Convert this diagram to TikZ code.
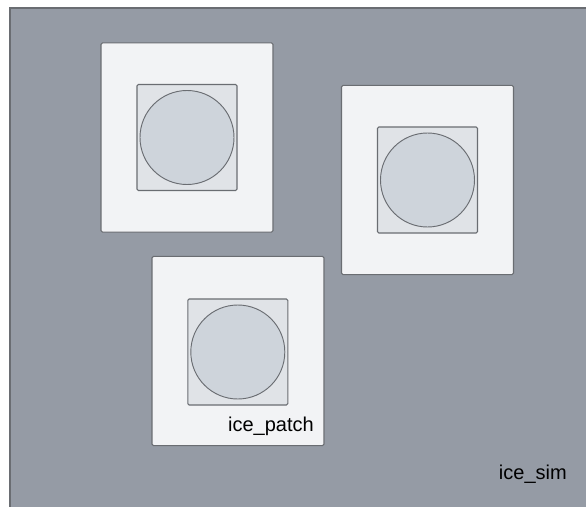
\documentclass[tikz,border=0pt]{standalone}
\usepackage{fontspec}
\setmainfont{Liberation Sans}
\usetikzlibrary{positioning}

\definecolor{simgray}{HTML}{959BA5}
\definecolor{cellfill}{HTML}{F2F3F5}
\definecolor{holefill}{HTML}{E0E3E7}
\definecolor{discfill}{HTML}{CED4DB}
\definecolor{edgegray}{HTML}{6A6D72}

\begin{document}
\begin{tikzpicture}[x=0.75pt, y=-0.75pt,
  cell/.style={draw=edgegray, line width=0.8pt, rounded corners=1.2pt, fill=cellfill, inner sep=0pt, outer sep=0pt, minimum width=129pt, minimum height=142pt},
  hole/.style={draw=edgegray, line width=0.8pt, rounded corners=1pt, fill=holefill, inner sep=0pt, outer sep=0pt, minimum width=75pt, minimum height=79.5pt},
  disc/.style={circle, draw=edgegray, line width=0.7pt, fill=discfill, inner sep=0pt, minimum size=70.5pt},
  lab/.style={font=\fontsize{15}{18}\selectfont, inner sep=0pt}]
\useasboundingbox (0,0) rectangle (586,507);
\begin{scope}
\clip (0,0) rectangle (586,507);
\draw[edgegray, line width=1.2pt, fill=simgray] (10,8) rectangle (620,540);
\end{scope}
% patches
\node[cell] (cellA) at (187,137.5) {};
\node[cell] (cellB) at (427.5,180) {};
\node[cell] (cellC) at (238,351) {};
\node[hole] (holeA) at (cellA.center) {};
\node[hole] (holeB) at (cellB.center) {};
\node[hole] (holeC) at (237.8,352) {};
\node[disc] (discA) at (holeA.center) {};
\node[disc] (discB) at (holeB.center) {};
\node[disc] (discC) at (holeC.center) {};
% labels
\node[lab, anchor=base east] (patchlab) at (314,431) {ice\_patch};
\node[lab, anchor=base east] (simlab) at (567,479) {ice\_sim};
\end{tikzpicture}
\end{document}
